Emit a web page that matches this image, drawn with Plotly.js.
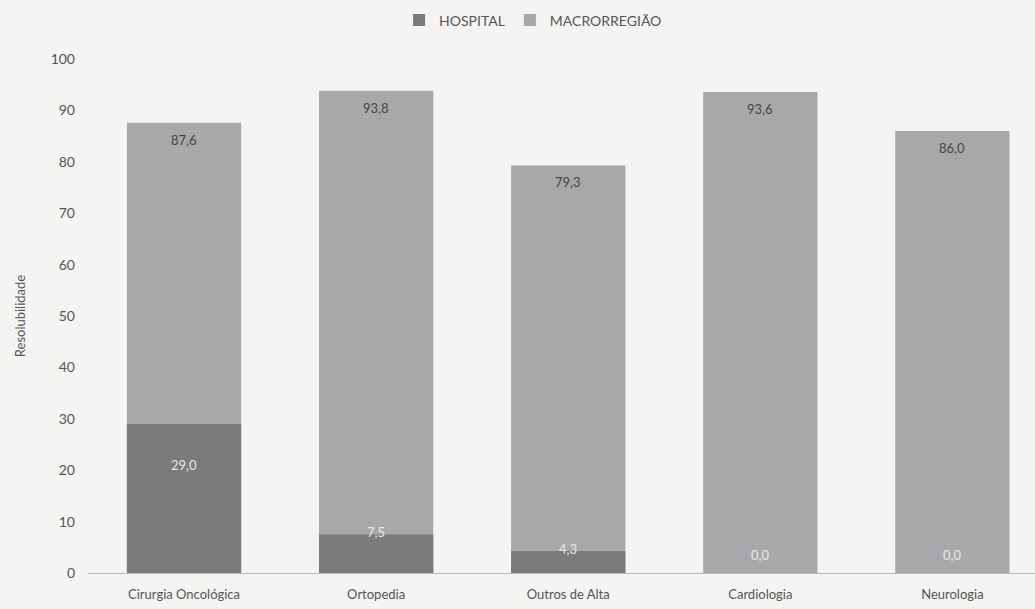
<!DOCTYPE html>
<html>
<head>
<meta charset="utf-8">
<script src="https://cdn.plot.ly/plotly-3.0.1.min.js"></script>
<style>html,body{margin:0;padding:0;background:#f4f4f3;}#chart{width:1035px;height:609px;}</style>
</head>
<body>
<div id="chart"></div>
<script>
const categories = ["Cirurgia Oncológica", "Ortopedia", "Outros de Alta", "Cardiologia", "Neurologia"];
const hospital = [29.0, 7.5, 4.3, 0.0, 0.0];
const macrorregiao = [87.6, 93.8, 79.3, 93.6, 86.0];
const seriesNames = ["HOSPITAL", "MACRORREGIÃO"];
const yTicks = [0, 10, 20, 30, 40, 50, 60, 70, 80, 90, 100];

const fmt = v => v.toFixed(1).replace('.', ',');
const pxPerUnit = (573 - 59) / 100;

const traces = [
  {type: 'bar', name: seriesNames[0], x: categories, y: hospital,
   marker: {color: '#7b7b7c'}, width: 0.595, hoverinfo: 'none'},
  {type: 'bar', name: seriesNames[1], x: categories, y: macrorregiao,
   marker: {color: '#a8a8aa'}, width: 0.595, hoverinfo: 'none'}
];

const annotations = [];
macrorregiao.forEach((v, i) => {
  annotations.push({x: categories[i], y: v, xref: 'x', yref: 'y', text: fmt(v),
    showarrow: false, yshift: -17, yanchor: 'middle',
    font: {family: 'Lato, sans-serif', size: 13, color: '#454545'}});
});
hospital.forEach((v, i) => {
  const px = v * pxPerUnit;
  const shift = px > 60 ? -41 : Math.max(0, 16 - px) + 2;
  annotations.push({x: categories[i], y: v, xref: 'x', yref: 'y', text: fmt(v),
    showarrow: false, yshift: shift, yanchor: 'middle',
    font: {family: 'Lato, sans-serif', size: 13, color: '#e8e8e8'}});
});

const layout = {
  width: 1035, height: 609,
  paper_bgcolor: '#f4f4f3', plot_bgcolor: '#f4f4f3',
  margin: {l: 88, r: 0, t: 59, b: 36},
  barmode: 'overlay',
  font: {family: 'Lato, sans-serif', size: 12, color: '#555'},
  showlegend: true,
  legend: {orientation: 'h', x: 0.47, xanchor: 'center', y: 1.075, yanchor: 'middle',
    font: {size: 14, color: '#555'}, traceorder: 'normal'},
  xaxis: {range: [-0.5, 4.43], showline: true, linecolor: '#b8b8b8', linewidth: 1,
    ticks: '', showgrid: false, zeroline: false, ticklabelstandoff: 9,
    tickfont: {size: 13, color: '#555'}},
  yaxis: {range: [0, 100], tickvals: yTicks, showgrid: false, zeroline: false,
    showline: false, ticks: '', ticklen: 0, ticklabelstandoff: 12,
    tickfont: {size: 14, color: '#555'},
    title: {text: 'Resolubilidade', font: {size: 13, color: '#555'}, standoff: 22}},
  annotations: annotations
};

const ordered = [Object.assign({}, traces[1], {legendrank: 2}), Object.assign({}, traces[0], {legendrank: 1})];
Plotly.newPlot('chart', ordered, layout, {displayModeBar: false, staticPlot: true});
</script>
</body>
</html>
